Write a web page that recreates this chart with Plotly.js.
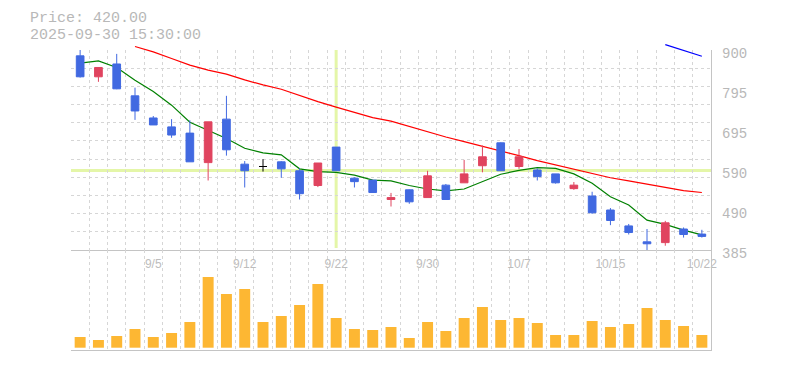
<!DOCTYPE html>
<html><head><meta charset="utf-8">
<script src="https://cdn.plot.ly/plotly-3.0.1.min.js"></script>
<style>html,body{margin:0;padding:0;background:#fff}#chart{width:785px;height:370px}</style>
</head><body><div id="chart"></div>
<script>
// ---- data ----
const dates = ['2025-09-01','2025-09-02','2025-09-03','2025-09-04','2025-09-05','2025-09-08','2025-09-09','2025-09-10','2025-09-11','2025-09-12',
  '2025-09-16','2025-09-17','2025-09-18','2025-09-19','2025-09-22','2025-09-24','2025-09-25','2025-09-26','2025-09-29','2025-09-30',
  '2025-10-01','2025-10-02','2025-10-03','2025-10-06','2025-10-07','2025-10-08','2025-10-09','2025-10-10','2025-10-14','2025-10-15',
  '2025-10-16','2025-10-17','2025-10-20','2025-10-21','2025-10-22'];
const openP  = [885,831,864,782,725,702,686,610,722,606, 600,612,589,551,650,570,565,515,540,520, 552,558,602,661,600,591,581,543,524,488, 447,406,404,439,426];
const highP  = [900,856,890,803,730,722,719,715,782,614, 619,614,595,609,650,572,565,532,541,589, 555,617,654,662,645,595,581,560,535,493, 452,439,460,443,437];
const lowP   = [829,818,799,720,707,674,612,564,628,546, 587,571,515,547,589,546,533,497,504,520, 515,558,585,589,594,564,556,540,478,449, 425,385,396,417,417];
const closeP = [831,855,800,743,707,681,612,715,643,589, 600,594,530,609,589,561,533,520,509,576, 515,581,625,589,625,574,558,552,481,461, 430,401,455,425,420];
const volume = [107,77,117,187,107,147,257,707,537,587, 257,317,427,637,297,187,177,207,97,257, 167,297,407,277,297,247,127,127,267,207, 237,397,277,217,127];
const ma5  = [866,872,855,822,793,758,714,694,672,647, 635,630,594,587,585,578,565,563,551,542, 537,542,562,580,590,597,595,581,557,522, 501,462,451,436,424];
const ma25 = [null,null,null,909,895,878,861,848,838,823, 810,799,783,767,753,739,726,717,703,688, 676,664,652,641,628,615,604,594,582,571, 563,555,546,538,533];
const ma75 = [null,null,null,null,null,null,null,null,null,null, null,null,null,null,null,null,null,null,null,null,
  null,null,null,null,null,null,null,null,null,null, null,null,914,899,884];
const labelDates = ['2025-09-05','2025-09-12','2025-09-22','2025-09-30','2025-10-07','2025-10-15','2025-10-22'];
const priceTickVals = [385,488,591,694,797,900];
const priceTickText = ['385','490','590','695','795','900'];
const headerPrice = 'Price: 420.00';
const headerTime = '2025-09-30 15:30:00';
const crossDate = '2025-09-22';
const crossPrice = 590;

// ---- build ----
const idx = dates.map((d, i) => i);
const tickvals = labelDates.map(d => dates.indexOf(d));
const ticktext = labelDates.map(d => { const p = d.split('-'); return (+p[1]) + '/' + (+p[2]); });
const crossIdx = dates.indexOf(crossDate);

const yMin = 385, yMax = 900;
const plotTop = 44, plotBot = 350, H = plotBot - plotTop;
const pricePxTop = 50, pricePxBot = 250;
const pb = (plotBot - pricePxBot) / H, pt = (plotBot - pricePxTop) / H;
const perPx = (yMax - yMin) / (pricePxBot - pricePxTop);
const yTopExt = yMax + (pricePxTop - plotTop) * perPx;
const gridVals = [];
for (let k = 0; k <= 11; k++) gridVals.push(yMin + k * (yMax - yMin) / 11);

const BLUE = '#4169e1', RED = '#e0445f', GRID = '#d6d6d6', AXL = '#c4c4c4';

const norm = [], doji = [];
idx.forEach(i => { (openP[i] === closeP[i] ? doji : norm).push(i); });
const pick = (arr, list) => list.map(i => arr[i]);

const traces = [
  {type:'scatter', mode:'lines', x:idx, y:ma5, xaxis:'x3', yaxis:'y3', line:{color:'#008000', width:1.2}, hoverinfo:'skip'},
  {type:'scatter', mode:'lines', x:idx, y:ma25, xaxis:'x3', yaxis:'y3', line:{color:'#ff0000', width:1.2}, hoverinfo:'skip'},
  {type:'scatter', mode:'lines', x:idx, y:ma75, xaxis:'x3', yaxis:'y3', line:{color:'#0000ff', width:1.2}, hoverinfo:'skip'},
  {type:'candlestick', x:norm, open:pick(openP,norm), high:pick(highP,norm), low:pick(lowP,norm), close:pick(closeP,norm),
    xaxis:'x3', yaxis:'y4',
    increasing:{line:{color:RED, width:1}, fillcolor:RED},
    decreasing:{line:{color:BLUE, width:1}, fillcolor:BLUE}, hoverinfo:'skip'},
  {type:'candlestick', x:doji, open:pick(openP,doji), high:pick(highP,doji), low:pick(lowP,doji), close:pick(closeP,doji),
    xaxis:'x3', yaxis:'y4',
    increasing:{line:{color:'#000', width:1}, fillcolor:'#000'},
    decreasing:{line:{color:'#000', width:1}, fillcolor:'#000'}, hoverinfo:'skip'},
  {type:'bar', x:idx, y:volume, xaxis:'x2', yaxis:'y2', width:0.6, marker:{color:'#fdb733', line:{width:0}}, hoverinfo:'skip'}
];

const minorGrid = {tickmode:'linear', tick0:0.5, dtick:1, showgrid:true, gridcolor:GRID, gridwidth:1, griddash:'3px,3px', ticks:''};
const xr = [-0.5, dates.length - 0.5];

const layout = {
  width:785, height:370, margin:{l:71, r:74, t:plotTop, b:370 - plotBot},
  paper_bgcolor:'#ffffff', plot_bgcolor:'rgba(0,0,0,0)', showlegend:false,
  boxgap:0.4, boxmode:'overlay', bargap:0.4,
  xaxis:{domain:[0,1], anchor:'y', range:xr, tickmode:'array', tickvals:tickvals, ticktext:ticktext, ticks:'',
    showgrid:false, zeroline:false, showline:true, linecolor:AXL, linewidth:1,
    tickfont:{family:'Liberation Sans', size:12, color:'#bdbdbd'}, ticklabelstandoff:3,
    minor:minorGrid, rangeslider:{visible:false}, fixedrange:true},
  yaxis:{domain:[pb,pt], anchor:'x', side:'right', range:[yMin,yMax], tickmode:'array', tickvals:gridVals,
    showticklabels:false, ticks:'', showgrid:true, gridcolor:GRID, gridwidth:1, griddash:'3px,3px',
    zeroline:false, showline:true, linecolor:AXL, linewidth:1, fixedrange:true},
  xaxis2:{domain:[0,1], anchor:'y2', range:xr, showticklabels:false, ticks:'', showgrid:false, zeroline:false,
    showline:true, linecolor:AXL, linewidth:1, minor:minorGrid, rangeslider:{visible:false}, fixedrange:true},
  yaxis2:{domain:[0,pb], anchor:'x2', side:'right', range:[-23,977], showticklabels:false, ticks:'', showgrid:false,
    zeroline:false, showline:true, linecolor:AXL, linewidth:1, fixedrange:true},
  xaxis3:{domain:[0,1], anchor:'y3', range:xr, visible:false, rangeslider:{visible:false}, fixedrange:true},
  yaxis3:{domain:[pb,1], anchor:'x3', side:'right', range:[yMin,yTopExt], tickmode:'array', tickvals:priceTickVals,
    ticktext:priceTickText, ticks:'', ticklabelshift:3, ticklabelstandoff:10, showgrid:false, zeroline:false, showline:false,
    tickfont:{family:'Liberation Mono', size:14, color:'#b8b8b8'}, fixedrange:true},
  yaxis4:{overlaying:'y3', anchor:'x3', side:'right', range:[yMin,yTopExt], visible:false, fixedrange:true},
  shapes:[
    {type:'line', xref:'x', yref:'y domain', x0:crossIdx, x1:crossIdx, y0:0.01, y1:1, line:{color:'#e4f6a8', width:3}, layer:'below'},
    {type:'line', xref:'x domain', yref:'y', x0:0, x1:1, y0:crossPrice, y1:crossPrice, line:{color:'#e4f6a8', width:3}, layer:'below'}
  ],
  annotations:[
    {xref:'paper', yref:'paper', x:(27.5-71)/640, y:(plotBot-8.5)/H, xanchor:'left', yanchor:'top', showarrow:false,
      text:headerPrice, font:{family:'Liberation Mono', size:15, color:'#b8b8b8'}},
    {xref:'paper', yref:'paper', x:(27.5-71)/640, y:(plotBot-24.5)/H, xanchor:'left', yanchor:'top', showarrow:false,
      text:headerTime, font:{family:'Liberation Mono', size:15, color:'#b8b8b8'}}
  ]
};

Plotly.newPlot('chart', traces, layout, {staticPlot:true, displayModeBar:false});
</script>
</body></html>
